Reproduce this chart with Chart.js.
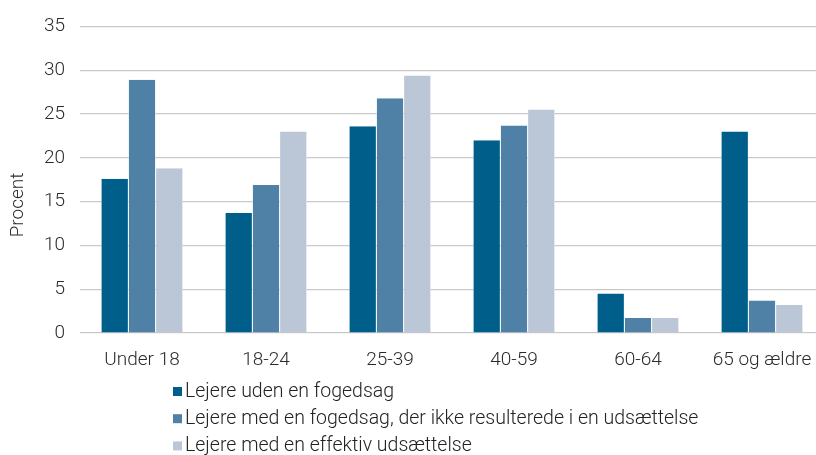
<!DOCTYPE html>
<html>
<head>
<meta charset="utf-8">
<script src="https://cdn.jsdelivr.net/npm/chart.js@4/dist/chart.umd.min.js"></script>
<style>
  html, body { margin: 0; padding: 0; background: #fff; overflow: hidden; }
  #wrap { width: 816px; height: 455px; overflow: hidden; position: relative; }
  #box { width: 826px; height: 455px; position: absolute; left: 0; top: 0; }
</style>
</head>
<body>
<div id="wrap"><div id="box"><canvas id="c"></canvas></div></div>
<script>
// Age groups and the share (%) of each tenant group
const categories = ['Under 18', '18-24', '25-39', '40-59', '60-64', '65 og ældre'];
const seriesNames = [
  'Lejere uden en fogedsag',
  'Lejere med en fogedsag, der ikke resulterede i en udsættelse',
  'Lejere med en effektiv udsættelse'
];
const utenFogedsag = [17.6, 13.7, 23.6, 22.0, 4.5, 23.0];
const medFogedsag = [28.9, 16.9, 26.8, 23.7, 1.7, 3.7];
const effektivUdsaettelse = [18.8, 23.0, 29.4, 25.5, 1.7, 3.2];
const yTicks = [0, 5, 10, 15, 20, 25, 30, 35];
const colors = ['#005f8a', '#4f80a5', '#bbc7d7'];
const yTitle = 'Procent';

const FONT = 'Roboto, sans-serif';
const WEIGHT = 300;

// Legend stacked vertically under the plot, plus the rotated axis title
const customDecor = {
  id: 'customDecor',
  afterDraw(chart) {
    const ctx = chart.ctx;
    ctx.save();
    ctx.font = WEIGHT + ' 19.5px ' + FONT;
    ctx.textBaseline = 'middle';
    ctx.textAlign = 'left';
    chart.data.datasets.forEach((ds, i) => {
      const y = 391.5 + i * 27.2;
      ctx.fillStyle = ds.backgroundColor;
      ctx.fillRect(173, y - 4.5, 9, 9);
      ctx.fillStyle = '#222';
      ctx.fillText(ds.label, 185, y + 0.5);
    });
    ctx.font = WEIGHT + ' 19px ' + FONT;
    ctx.translate(18, 205);
    ctx.rotate(-Math.PI / 2);
    ctx.textAlign = 'center';
    ctx.fillStyle = '#2b2b2b';
    ctx.fillText(yTitle, 0, 0);
    ctx.restore();
  }
};

const values = [utenFogedsag, medFogedsag, effektivUdsaettelse];

new Chart(document.getElementById('c'), {
  type: 'bar',
  data: {
    labels: categories,
    datasets: seriesNames.map((name, i) => ({
      label: name,
      data: values[i],
      backgroundColor: colors[i],
      borderColor: '#ffffff',
      borderWidth: { left: 0.5, right: 0.5, top: 0, bottom: 0 },
      barPercentage: 1.0,
      categoryPercentage: 0.66
    }))
  },
  options: {
    responsive: true,
    maintainAspectRatio: false,
    animation: false,
    layout: { padding: { top: 24.5, bottom: 81, left: 0, right: 2 } },
    plugins: { legend: { display: false }, tooltip: { enabled: false } },
    scales: {
      x: {
        grid: { display: false },
        border: { display: false },
        ticks: { font: { family: FONT, size: 19, weight: WEIGHT }, color: '#2b2b2b', padding: 8, maxRotation: 0 },
        afterFit(scale) { scale.height = 41; }
      },
      y: {
        min: 0,
        max: 35,
        afterBuildTicks(scale) { scale.ticks = yTicks.map(v => ({ value: v })); },
        grid: { color: '#c9c9c9', lineWidth: 1.2, drawTicks: false },
        border: { display: false },
        ticks: { font: { family: FONT, size: 19, weight: WEIGHT }, color: '#2b2b2b', padding: 15 },
        afterFit(scale) { scale.width = 80; }
      }
    }
  },
  plugins: [customDecor]
});
</script>
</body>
</html>
